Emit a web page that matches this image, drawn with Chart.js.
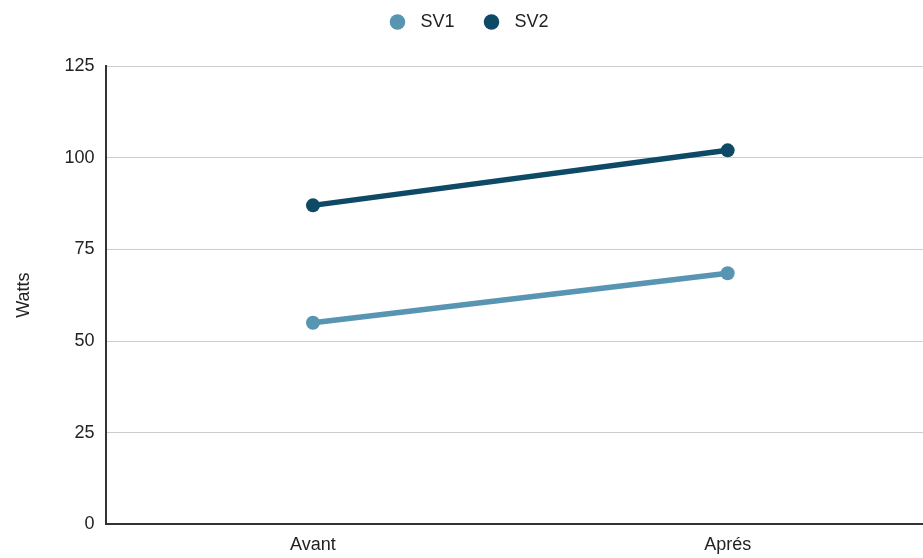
<!DOCTYPE html>
<html>
<head>
<meta charset="utf-8">
<script src="https://cdn.jsdelivr.net/npm/chart.js@4"></script>
<style>
  html, body { margin: 0; padding: 0; background: #ffffff; overflow: hidden; }
  #wrap { position: relative; width: 942px; height: 568px; }
</style>
</head>
<body>
<div id="wrap"><canvas id="chart"></canvas></div>
<script>
// Power measured before and after, per series
const categories = ['Avant', 'Aprés'];
const sv1Values = [55, 68.5];
const sv2Values = [87, 102];
const yTicks = [0, 25, 50, 75, 100, 125];

const sv1Color = '#5795b3';
const sv2Color = '#0e4a66';
const textFont = { family: 'Liberation Sans, Arial, sans-serif', size: 18 };

// Adds breathing room between the legend and the plot area,
// and nudges the legend slightly left of the full-width centre
const legendGap = {
  id: 'legendGap',
  beforeInit(chart) {
    const fit = chart.legend.fit;
    chart.legend.fit = function () {
      fit.call(this);
      this.height += 25;
    };
  },
  afterLayout(chart) {
    chart.legend.left -= 9;
    chart.legend.right -= 9;
  }
};

new Chart(document.getElementById('chart'), {
  type: 'line',
  data: {
    labels: categories,
    datasets: [
      {
        label: 'SV1',
        data: sv1Values,
        borderColor: sv1Color,
        backgroundColor: sv1Color,
        borderWidth: 5.5,
        pointRadius: 7,
        pointHoverRadius: 7,
        pointBorderWidth: 0
      },
      {
        label: 'SV2',
        data: sv2Values,
        borderColor: sv2Color,
        backgroundColor: sv2Color,
        borderWidth: 5.5,
        pointRadius: 7,
        pointHoverRadius: 7,
        pointBorderWidth: 0
      }
    ]
  },
  options: {
    responsive: true,
    maintainAspectRatio: false,
    animation: false,
    layout: { padding: { top: -15, left: 13, right: 0, bottom: 2 } },
    plugins: {
      legend: {
        position: 'top',
        labels: {
          usePointStyle: true,
          pointStyle: 'circle',
          boxWidth: 18,
          boxHeight: 11,
          padding: 28,
          color: '#222222',
          font: textFont,
          generateLabels(chart) {
            const items = Chart.defaults.plugins.legend.labels.generateLabels(chart);
            items.forEach(item => { item.text = ' ' + item.text; });
            return items;
          }
        }
      },
      tooltip: { enabled: false }
    },
    scales: {
      x: {
        offset: true,
        grid: { display: false, drawTicks: false },
        border: { display: true, color: '#333333', width: 2 },
        ticks: {
          padding: 10,
          color: '#222222',
          font: textFont
        }
      },
      y: {
        min: 0,
        max: 125,
        afterBuildTicks: (axis) => { axis.ticks = yTicks.map(v => ({ value: v })); },
        grid: { color: '#cccccc', lineWidth: 1, drawTicks: false },
        border: { display: true, color: '#333333', width: 2 },
        ticks: {
          padding: 11,
          color: '#222222',
          font: textFont
        },
        title: {
          display: true,
          text: 'Watts',
          color: '#222222',
          padding: { top: 0, bottom: 19 },
          font: textFont
        }
      }
    }
  },
  plugins: [legendGap]
});
</script>
</body>
</html>
